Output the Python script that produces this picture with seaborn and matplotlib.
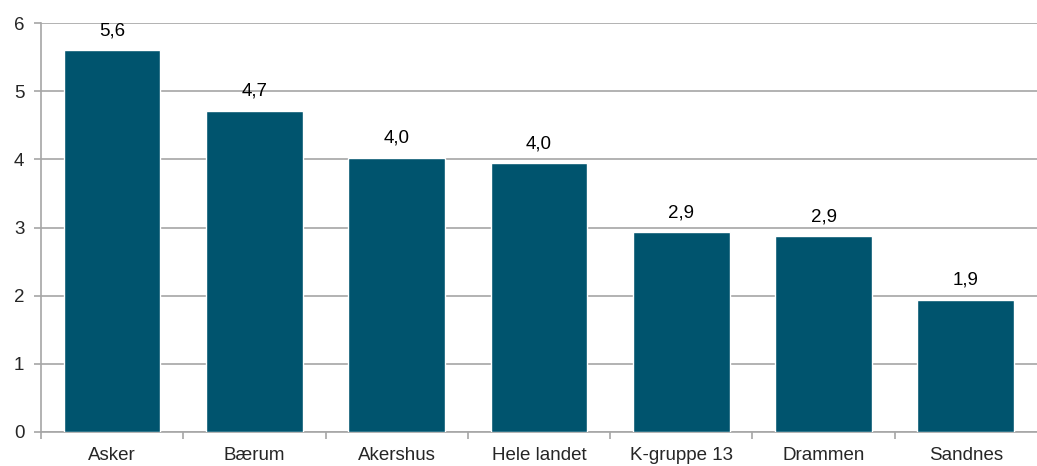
import matplotlib
matplotlib.use("Agg")
import matplotlib.pyplot as plt
import seaborn as sns
import pandas as pd
from matplotlib.ticker import FixedLocator

categories = ["Asker", "Bærum", "Akershus", "Hele landet", "K-gruppe 13", "Drammen", "Sandnes"]
values = [5.6, 4.71, 4.02, 3.94, 2.93, 2.87, 1.94]
labels = ["5,6", "4,7", "4,0", "4,0", "2,9", "2,9", "1,9"]

sns.set_style("white")
plt.rcParams["font.family"] = ["Liberation Sans", "DejaVu Sans"]

df = pd.DataFrame({"kategori": categories, "verdi": values})

fig = plt.figure(figsize=(10.37, 4.66), dpi=100)
ax = fig.add_axes([0.0395, 0.073, 0.9605, 0.8775])

sns.barplot(data=df, x="kategori", y="verdi", color="#00546E", saturation=1,
            width=0.68, ax=ax, zorder=3)

for i, (v, lab) in enumerate(zip(values, labels)):
    ax.annotate(lab, (i, v), xytext=(0, 8), textcoords="offset points",
                ha="center", va="bottom", fontsize=13.5, color="black")

ax.set_ylim(0, 6)
ax.set_xlim(-0.5, len(categories) - 0.5)
ax.set_yticks(range(0, 7))
ax.yaxis.grid(True, color="#A6A6A6", linewidth=1.2, zorder=0)
ax.set_axisbelow(True)

ax.xaxis.set_minor_locator(FixedLocator([i - 0.5 for i in range(len(categories))]))
ax.tick_params(axis="x", which="major", length=0, labelsize=13.5, pad=11)
ax.tick_params(axis="x", which="minor", length=5, color="#A6A6A6", width=1.2, direction="out", bottom=True)
ax.tick_params(axis="y", length=5, color="#A6A6A6", width=1.2, direction="out", left=True, labelsize=13.5, pad=7)

ax.set_xlabel("")
ax.set_ylabel("")
for s in ["top", "right"]:
    ax.spines[s].set_visible(False)
for s in ["left", "bottom"]:
    ax.spines[s].set_color("#A6A6A6")
    ax.spines[s].set_linewidth(1.2)

fig.savefig("out.png", dpi=100)
